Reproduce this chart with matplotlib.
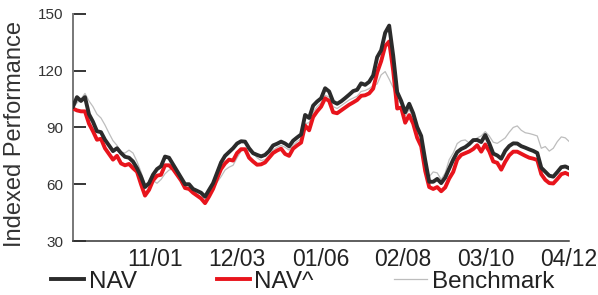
import matplotlib
matplotlib.use("Agg")
import matplotlib.pyplot as plt
import numpy as np

plt.rcParams["font.family"] = ["Liberation Sans", "DejaVu Sans"]

NAV_COLOR = "#2b2b2b"
NAVH_COLOR = "#e8141c"
BENCH_COLOR = "#bdbdbd"

# tick labels (MM/DD) and their positions on the series index
tick_labels = ["11/01", "12/03", "01/06", "02/08", "03/10", "04/12"]
tick_index = [20.5, 41, 62, 82.5, 103.25, 123.75]

nav = [
    101, 106, 104, 106, 97, 93, 88, 87.5, 83.5, 80.5,
    77.5, 79, 76.5, 74.5, 74, 72, 68.5, 64, 58.5, 60.5,
    65, 68, 69.5, 74.6, 74, 70.5, 67, 63.5, 60, 60,
    57.5, 56.5, 55.5, 53.4, 57, 60.5, 66, 71.5, 75, 77,
    79, 81.5, 82.7, 82.5, 79, 76.4, 75.5, 74.7, 75.5, 77.5,
    80.5, 81.4, 82.5, 81.5, 80, 83, 84.7, 86.3, 96.6, 95,
    101.5, 103.7, 105.4, 110.7, 109, 103.6, 102.5, 103.8, 105.5, 107.3,
    109.2, 109.9, 113.3, 112.5, 114.1, 117.5, 127.1, 130.8, 140, 143.8,
    128, 108.7, 104, 98, 102.5, 97.5, 90.2, 85.5, 72.8, 61.3,
    61.3, 62.8, 60.6, 63.5, 68.3, 73, 77, 78.6, 79.6, 81.2,
    83.3, 83.4, 82.3, 86, 81.6, 76.2, 75.2, 73.5, 77.7, 80.2,
    81.6, 81.5, 80.1, 79.3, 78.4, 77.6, 76.5, 68.7, 66.6, 64.5,
    64, 66.4, 69, 69.4, 68.4,
]

nav_hat = [
    100, 99, 98.5, 98.5, 92, 88, 83.5, 84, 79, 76,
    73, 75, 71, 70, 70.7, 68.5, 66.6, 60, 54, 57,
    62, 64.5, 65, 70, 70, 68, 65, 62, 58, 57.5,
    55.5, 54, 52.5, 50, 53.5, 57.5, 63, 68, 71, 73,
    72.5, 76.5, 78.5, 78.5, 74, 72, 70.3, 70.5, 71.5, 74,
    76.5, 77.8, 78.8, 76, 75, 78.8, 80.5, 82, 91, 88.5,
    95.5, 98.5, 101, 105.4, 104, 98, 97.5, 99, 100.5, 102,
    103.2, 104.5, 106.7, 107, 108, 110.5, 119, 125, 133, 135.4,
    120, 100, 100.5, 92.5, 96.5, 92, 84.5, 80, 67, 58.5,
    57.5, 58.5, 56.3, 58.3, 63, 66.5, 73, 75.5, 76.4, 77.3,
    78.6, 80.6, 77.2, 81, 77.4, 72, 71.3, 67.7, 71.9, 75.3,
    77.2, 77.2, 76.1, 75, 74, 73.5, 72.8, 65.3, 62.3, 60.6,
    60.4, 62.7, 65.3, 66, 65,
]

benchmark = [
    100, 103, 105, 108, 104, 101, 97, 95, 91.3, 87,
    83, 80.5, 77, 76.5, 78, 76.5, 72, 66.5, 60, 61,
    62, 60.5, 62.5, 65.5, 67.5, 68, 66, 62, 58.5, 58,
    56, 54.5, 52.5, 51, 53.5, 57, 61, 64, 67.5, 69,
    70, 74, 77.5, 78.5, 77.5, 76.5, 74, 72.5, 73, 75,
    78, 79.5, 80.5, 79.5, 78, 80.5, 82.5, 84, 92, 92.5,
    98, 101, 103, 107, 106, 101, 100, 101.5, 103, 104.5,
    105.5, 106.5, 109, 109.5, 110.5, 112, 113, 117.8, 119.5, 115.5,
    111, 104.5, 102.5, 96, 99.5, 95, 88, 84, 72, 64,
    66.5, 66, 62.5, 66, 73, 76.5, 81.5, 83, 83.4, 81.8,
    82.5, 84.5, 85.5, 87.8, 85.5, 82.2, 81.6, 83, 84.5, 87.5,
    90, 90.8, 88.5, 87.2, 86.8, 86.2, 85.5, 79, 79.9, 77.5,
    79, 82.5, 85, 84.5, 82.5,
]

y_ticks = [30, 60, 90, 120, 150]
y_tick_colors = ["#2a6ebb", "#2a6ebb", "#7aa7d6", "#555555", "#1f5ea8"]


def main() -> None:
    x = np.arange(len(nav))

    fig = plt.figure(figsize=(5.98, 2.95), dpi=100, facecolor="white")
    ax = fig.add_axes([0.122, 0.183, 0.830, 0.770])

    ax.plot(x, benchmark, color=BENCH_COLOR, linewidth=0.9, label="Benchmark", zorder=2)
    ax.plot(x, nav_hat, color=NAVH_COLOR, linewidth=2.8, label="NAV^", zorder=3)
    ax.plot(x, nav, color=NAV_COLOR, linewidth=2.8, label="NAV", zorder=4)

    ax.set_xlim(0, len(nav) - 1)
    ax.set_ylim(30, 150)
    ax.set_yticks(y_ticks)
    ax.set_xticks(tick_index, tick_labels)

    ax.tick_params(axis="y", direction="in", length=9.5, width=1.1, pad=7,
                   labelsize=11, labelcolor="#333333")
    ax.tick_params(axis="x", length=0, pad=5, labelsize=16.5, labelcolor="#222222")
    for tick, c in zip(ax.yaxis.get_major_ticks(), y_tick_colors):
        tick.tick1line.set_color(c)

    ax.spines["top"].set_visible(False)
    ax.spines["right"].set_visible(False)
    ax.spines["left"].set_color("#777777")
    ax.spines["left"].set_linewidth(1.4)
    ax.spines["bottom"].set_color("#333333")
    ax.spines["bottom"].set_linewidth(1.1)

    ax.set_ylabel("Indexed Performance", fontsize=17, color="#333333")
    ax.yaxis.set_label_coords(-0.094, 0.47)

    handles, labels = ax.get_legend_handles_labels()
    order = [2, 1, 0]
    fig.legend(
        [handles[i] for i in order],
        [labels[i] for i in order],
        loc="upper left",
        bbox_to_anchor=(0.085, 0.082),
        ncol=3,
        frameon=False,
        fontsize=17.5,
        handlelength=1.35,
        handletextpad=0.2,
        columnspacing=3.3,
        borderpad=0,
        borderaxespad=0,
        labelcolor="#222222",
    )

    fig.savefig("out.png", dpi=100, facecolor="white")
    plt.close(fig)


if __name__ == "__main__":
    main()
